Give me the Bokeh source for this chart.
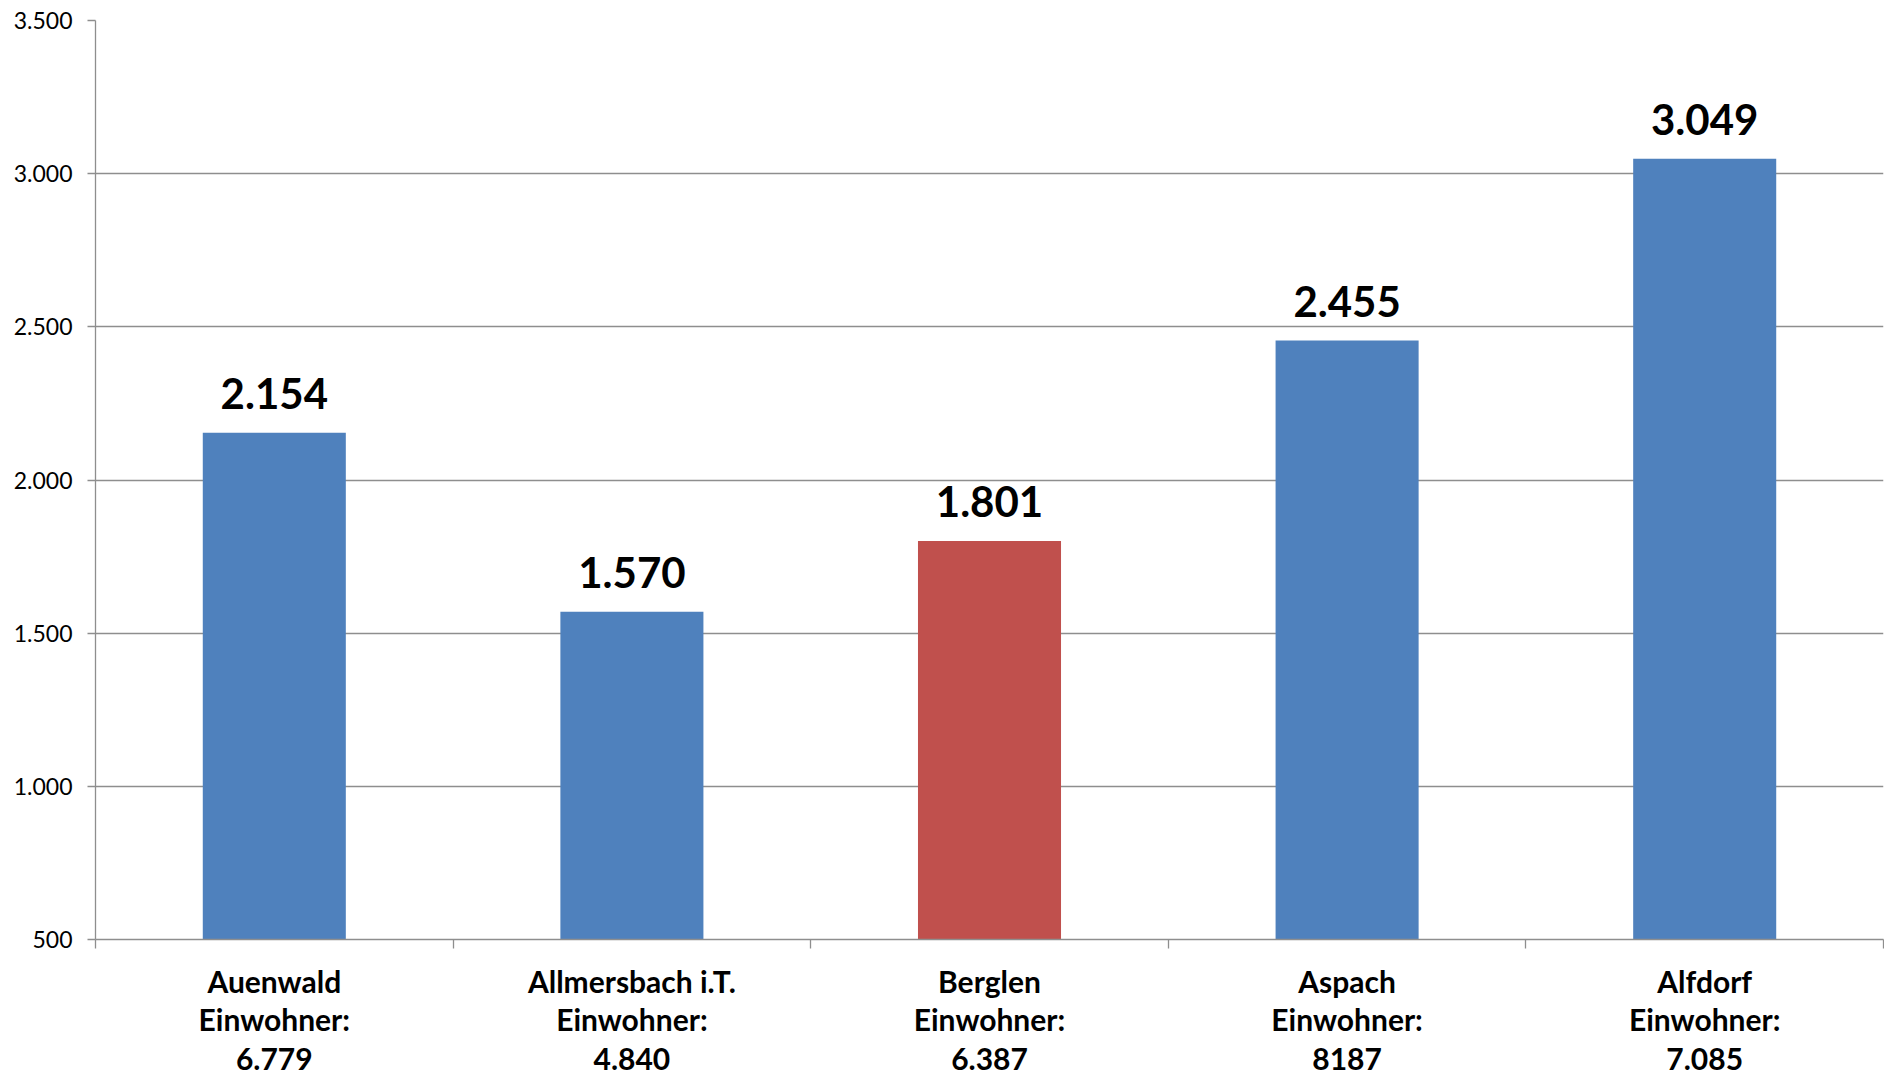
from bokeh.plotting import figure
from bokeh.models import ColumnDataSource, FixedTicker, LabelSet, Range1d
from bokeh.core.properties import value
from bokeh.embed import file_html
from bokeh.resources import INLINE

# ---- data ----
gemeinden = ["Auenwald", "Allmersbach i.T.", "Berglen", "Aspach", "Alfdorf"]
einwohner = ["6.779", "4.840", "6.387", "8187", "7.085"]
werte = [2154, 1570, 1801, 2455, 3049]
werte_text = ["2.154", "1.570", "1.801", "2.455", "3.049"]
farben = ["#4F81BD", "#4F81BD", "#C0504D", "#4F81BD", "#4F81BD"]
y_ticks = [500, 1000, 1500, 2000, 2500, 3000, 3500]
y_tick_labels = ["500", "1.000", "1.500", "2.000", "2.500", "3.000", "3.500"]

x_pos = [i + 0.5 for i in range(len(gemeinden))]
src = ColumnDataSource(dict(x=x_pos, top=werte, color=farben, txt=werte_text))

p = figure(width=1884, height=1081, output_backend="svg", toolbar_location=None,
           x_range=Range1d(0, len(gemeinden)), y_range=Range1d(500, 3500),
           min_border_left=95, min_border_right=1, min_border_top=20, min_border_bottom=142)
p.outline_line_color = None
p.background_fill_color = "white"
p.border_fill_color = "white"

p.vbar(x="x", top="top", bottom=500, width=0.4, color="color", line_color=None, source=src)

labels = LabelSet(x="x", y="top", text="txt", source=src, y_offset=24,
                  text_align="center", text_baseline="alphabetic",
                  text_font=value("Lato"), text_font_style="bold", text_font_size="42px",
                  text_color="black")
p.add_layout(labels)

grey = "#8E8E8E"
# y axis
p.yaxis.ticker = FixedTicker(ticks=y_ticks)
p.yaxis.major_label_overrides = {t: l for t, l in zip(y_ticks, y_tick_labels)}
p.yaxis.major_label_text_font = "Lato"
p.yaxis.major_label_text_font_size = "23px"
p.yaxis.major_label_text_color = "black"
p.yaxis.axis_line_color = grey
p.yaxis.axis_line_width = 1.3
p.yaxis.major_tick_line_color = grey
p.yaxis.major_tick_line_width = 1.3
p.yaxis.major_tick_out = 8
p.yaxis.major_tick_in = 0
p.yaxis.minor_tick_line_color = None
p.yaxis.major_label_standoff = 15

# x axis: labels at centers, ticks at boundaries (minor ticks)
p.xaxis.ticker = FixedTicker(ticks=x_pos, minor_ticks=list(range(len(gemeinden) + 1)))
p.xaxis.major_label_overrides = {x: f"{g}\nEinwohner:\n{e}" for x, g, e in zip(x_pos, gemeinden, einwohner)}
p.xaxis.major_label_text_font = "Lato"
p.xaxis.major_label_text_font_style = "bold"
p.xaxis.major_label_text_font_size = "30px"
p.xaxis.major_label_text_line_height = 1.07
p.xaxis.major_label_text_color = "black"
p.xaxis.major_label_text_align = "center"
p.xaxis.axis_line_color = grey
p.xaxis.axis_line_width = 1.3
p.xaxis.major_tick_line_color = None
p.xaxis.minor_tick_line_color = grey
p.xaxis.minor_tick_line_width = 1.3
p.xaxis.minor_tick_out = 9
p.xaxis.minor_tick_in = 0
p.xaxis.major_label_standoff = 14

p.xgrid.grid_line_color = None
p.ygrid.ticker = FixedTicker(ticks=y_ticks)
p.ygrid.grid_line_color = grey
p.ygrid.grid_line_width = 1.3

open("out.html", "w").write(file_html(p, INLINE))
